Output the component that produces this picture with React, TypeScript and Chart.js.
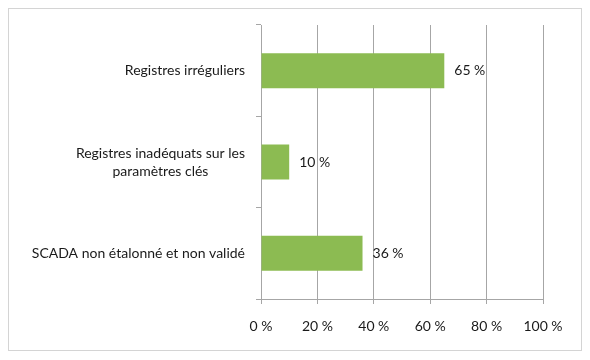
import React, { useEffect, useRef } from "react";
import { Chart, registerables } from "chart.js";

Chart.register(...registerables);

const categories: string[][] = [
  ["Registres irréguliers"],
  ["Registres inadéquats sur les", "paramètres clés"],
  ["SCADA non étalonné et non validé"],
];
const values: number[] = [65, 10, 36];
const xTicks: number[] = [0, 20, 40, 60, 80, 100];

const FONT = "Lato";
const FONT_SIZE = 14;
const TEXT_COLOR = "#1a1a1a";
const GRID_COLOR = "#a6a6a6";
const BAR_COLOR = "#8cbb52";

const leftLabelsPlugin = {
  id: "leftLabels",
  afterDraw(chart: any) {
    const ctx = chart.ctx;
    const y = chart.scales.y;
    const axisX = chart.chartArea.left;
    ctx.save();
    ctx.font = `${FONT_SIZE}px ${FONT}`;
    ctx.fillStyle = TEXT_COLOR;
    ctx.textAlign = "center";
    ctx.textBaseline = "middle";
    const lineH = 18;
    categories.forEach((lines, i) => {
      const maxW = Math.max(...lines.map((l) => ctx.measureText(l).width));
      const cx = axisX - 16 - maxW / 2;
      const cy = y.getPixelForValue(i);
      lines.forEach((l, j) => {
        ctx.fillText(l, cx, cy + (j - (lines.length - 1) / 2) * lineH);
      });
    });
    ctx.restore();
  },
};

const valueLabelsPlugin = {
  id: "valueLabels",
  afterDatasetsDraw(chart: any) {
    const ctx = chart.ctx;
    const meta = chart.getDatasetMeta(0);
    ctx.save();
    ctx.font = `${FONT_SIZE}px ${FONT}`;
    ctx.fillStyle = TEXT_COLOR;
    ctx.textAlign = "left";
    ctx.textBaseline = "middle";
    meta.data.forEach((bar: any, i: number) => {
      ctx.fillText(`${values[i]} %`, bar.x + 10, bar.y);
    });
    ctx.restore();
  },
};

export default function App() {
  const ref = useRef<HTMLCanvasElement>(null);
  useEffect(() => {
    if (!ref.current) return;
    const chart = new Chart(ref.current, {
      type: "bar",
      data: {
        labels: categories.map((c) => c.join(" ")),
        datasets: [
          {
            data: values,
            backgroundColor: BAR_COLOR,
            borderWidth: 0,
            categoryPercentage: 1,
            barPercentage: 0.383,
          },
        ],
      },
      options: {
        indexAxis: "y",
        responsive: false,
        animation: false,
        layout: { padding: { top: 16, right: 38, left: 0, bottom: 0 } },
        plugins: { legend: { display: false }, tooltip: { enabled: false } },
        scales: {
          x: {
            type: "linear",
            min: 0,
            max: 100,
            afterBuildTicks: (scale: any) => {
              scale.ticks = xTicks.map((v) => ({ value: v }));
            },
            afterFit: (scale: any) => {
              scale.height = 51;
            },
            ticks: {
              callback: (v: any) => `${v} %`,
              font: { family: FONT, size: FONT_SIZE },
              color: TEXT_COLOR,
              padding: 14,
              maxRotation: 0,
            },
            grid: { color: GRID_COLOR, tickLength: 5 },
            border: { color: GRID_COLOR },
          },
          y: {
            type: "category",
            offset: true,
            afterFit: (scale: any) => {
              scale.width = 252;
            },
            ticks: { display: false },
            grid: {
              offset: true,
              drawOnChartArea: false,
              color: GRID_COLOR,
              tickLength: 5,
            },
            border: { color: GRID_COLOR },
          },
        },
      },
      plugins: [leftLabelsPlugin, valueLabelsPlugin],
    });
    return () => chart.destroy();
  }, []);
  return (
    <div
      style={{
        width: 572,
        height: 341,
        border: "1px solid #d4d4d4",
        background: "#fff",
      }}
    >
      <canvas ref={ref} width={572} height={341} style={{ display: "block" }} />
    </div>
  );
}
